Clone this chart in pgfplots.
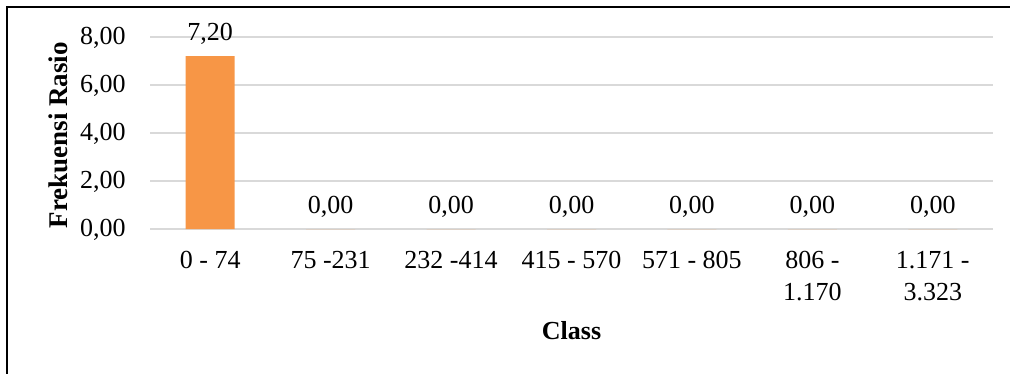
\documentclass[border=0pt]{standalone}
\usepackage{fontspec}
\setmainfont{Liberation Serif}
\usepackage{pgfplots}
\pgfplotsset{compat=1.18}
\definecolor{barorange}{RGB}{247,150,70}
\definecolor{gridgray}{RGB}{217,217,217}
\begin{document}
\fontsize{13}{16}\selectfont
\begin{tikzpicture}
\useasboundingbox (0,0) rectangle (505pt,187pt);
% frame around the chart area
\draw[line width=0.9pt] (3.5pt,0) -- (3.5pt,183.3pt) -- (505pt,183.3pt);
\begin{axis}[
  at={(75pt,72.5pt)}, anchor=south west,
  scale only axis, width=421.5pt, height=96pt,
  xmin=-0.5, xmax=6.5, ymin=0, ymax=8,
  clip=false,
  axis line style={draw=none},
  major tick style={draw=none},
  ymajorgrids, grid style={gridgray, line width=0.75pt},
  ytick={0,2,4,6,8},
  yticklabels={{0,00},{2,00},{4,00},{6,00},{8,00}},
  yticklabel style={inner sep=0pt, xshift=-12pt, yshift=-0.5pt},
  xtick={0,1,2,3,4,5,6},
  xticklabels={{0 - 74},{75 -231},{232 -414},{415 - 570},{571 - 805},{806 -\\1.170},{1.171 -\\3.323}},
  xticklabel style={align=center, inner sep=0pt, anchor=north, yshift=-11pt},
  xlabel={\bfseries Class},
  xlabel style={at={(axis description cs:0.5,-0.578)}, anchor=base},
  ylabel={\fontsize{13.5}{16}\selectfont\bfseries Frekuensi Rasio},
  ylabel style={at={(axis description cs:-0.0973,0.488)}, anchor=base, rotate=0},
  point meta=explicit symbolic,
  nodes near coords,
  every node near coord/.append style={inner sep=0pt, anchor=south, yshift=5.8pt},
]
\addplot[ybar, bar width=24.5pt, fill=barorange, draw=none]
  coordinates {(0,7.2) [7,20] (1,0) [0,00] (2,0) [0,00] (3,0) [0,00] (4,0) [0,00] (5,0) [0,00] (6,0) [0,00]};
\end{axis}
\end{tikzpicture}
\end{document}
